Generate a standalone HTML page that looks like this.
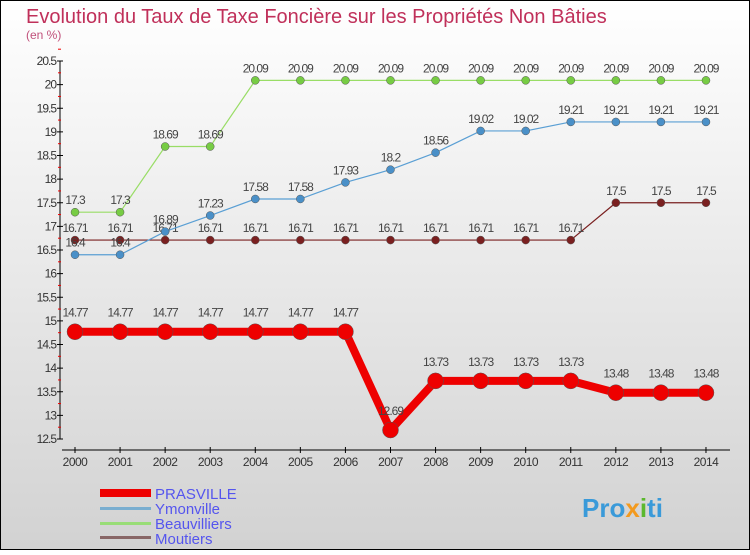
<!DOCTYPE html>
<html><head><meta charset="utf-8"><style>
body{margin:0}
svg text{font-family:"Liberation Sans",sans-serif}
</style></head><body>
<svg width="750" height="550" xmlns="http://www.w3.org/2000/svg">
<defs><linearGradient id="bg" x1="0" y1="0" x2="0" y2="1"><stop offset="0" stop-color="#ffffff"/><stop offset="1" stop-color="#d2d2d2"/></linearGradient></defs>
<rect x="0.5" y="0.5" width="749" height="549" fill="url(#bg)" stroke="#000"/>
<text x="26" y="23" font-size="20" fill="#c0305a">Evolution du Taux de Taxe Foncière sur les Propriétés Non Bâties</text>
<text x="26" y="39" font-size="12" fill="#c0507a">(en %)</text>
<g id="axes"></g><g id="series"></g>
<g>
<rect x="100" y="489" width="51" height="8" fill="#e00"/>
<text x="155" y="499" font-size="15" fill="#5555ee">PRASVILLE</text>
<rect x="100" y="507" width="51" height="3" fill="#7aaed0"/>
<text x="155" y="514" font-size="15" fill="#5555ee">Ymonville</text>
<rect x="100" y="522" width="51" height="3" fill="#99dd77"/>
<text x="155" y="529" font-size="15" fill="#5555ee">Beauvilliers</text>
<rect x="100" y="536" width="51" height="3" fill="#886666"/>
<text x="155" y="544" font-size="15" fill="#5555ee">Moutiers</text>
</g>
<text x="582" y="517" font-size="26" font-weight="bold" fill="#3a9ad9">Pro<tspan fill="#f39a1e">x</tspan><tspan fill="#5cb82e">i</tspan>ti</text>
</svg>
<script>
const years=[2000,2001,2002,2003,2004,2005,2006,2007,2008,2009,2010,2011,2012,2013,2014];
const prasville=[14.77,14.77,14.77,14.77,14.77,14.77,14.77,12.69,13.73,13.73,13.73,13.73,13.48,13.48,13.48];
const ymonville=[16.4,16.4,16.89,17.23,17.58,17.58,17.93,18.2,18.56,19.02,19.02,19.21,19.21,19.21,19.21];
const beauvilliers=[17.3,17.3,18.69,18.69,20.09,20.09,20.09,20.09,20.09,20.09,20.09,20.09,20.09,20.09,20.09];
const moutiers=[16.71,16.71,16.71,16.71,16.71,16.71,16.71,16.71,16.71,16.71,16.71,16.71,17.5,17.5,17.5];
const yTicks=[12.5,13,13.5,14,14.5,15,15.5,16,16.5,17,17.5,18,18.5,19,19.5,20,20.5];
const NS="http://www.w3.org/2000/svg";
const X=i=>75+i*45.07, Y=v=>439-(v-12.5)*47.25;
function mk(t,a,p){const e=document.createElementNS(NS,t);for(const k in a)e.setAttribute(k,a[k]);p.appendChild(e);return e;}
const ax=document.getElementById('axes'), sg=document.getElementById('series');
let l=mk('line',{x1:60,y1:Y(20.5),x2:60,y2:Y(12.5),stroke:'#000'},ax);

yTicks.forEach((v,i)=>{mk('line',{x1:57,y1:Y(v),x2:63,y2:Y(v),stroke:'#000'},ax);
 mk('line',{x1:58,y1:Y(v+0.25),x2:61,y2:Y(v+0.25),stroke:'#e00'},ax);
 const t=mk('text',{x:56,y:Y(v)+4,'font-size':12,fill:'#333','text-anchor':'end','letter-spacing':'-1'},ax);t.textContent=v;
 });
l=mk('line',{x1:62,y1:450,x2:730,y2:450,stroke:'#000'},ax);

years.forEach((y,i)=>{mk('line',{x1:X(i),y1:447,x2:X(i),y2:453,stroke:'#000'},ax);
 const t=mk('text',{x:X(i),y:466,'font-size':12,fill:'#333','text-anchor':'middle','letter-spacing':'-0.5'},ax);t.textContent=y;
 });
function series(name,data,color,dot,w,r,lab){
 const g=mk('g',{},sg);
 mk('polyline',{points:data.map((v,i)=>X(i)+','+Y(v)).join(' '),fill:'none',stroke:color,'stroke-width':w,'stroke-linejoin':'round'},g);
 data.forEach((v,i)=>{const c=mk('circle',{cx:X(i),cy:Y(v),r:r,fill:dot,stroke:'#555','stroke-width':0.5},g);
  
  const t=mk('text',{x:X(i),y:Y(v)-lab,'font-size':12,fill:'#444','text-anchor':'middle','letter-spacing':'-1'},g);t.textContent=v;
  });
}
series('moutiers',moutiers,'#7a2020','#7a2020',1.2,4,8);
series('beauvilliers',beauvilliers,'#99dd66','#77cc44',1.2,4,8);
series('ymonville',ymonville,'#5a9fd4','#4a90c8',1.2,4,8);
series('prasville',prasville,'#ee0000','#ee0000',8,8,15);
</script>
</body></html>
